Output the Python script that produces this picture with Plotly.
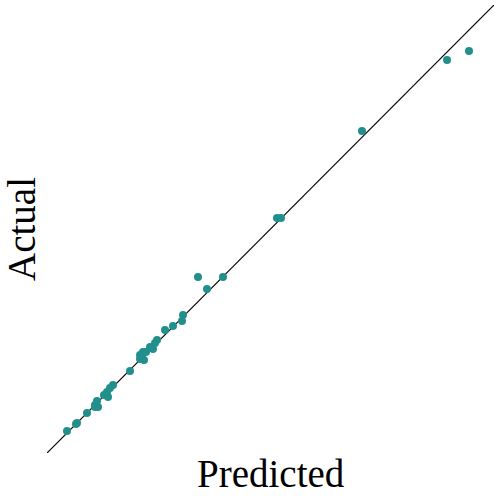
import plotly.graph_objects as go

predicted = [94.41, 89.49, 70.47, 51.45, 52.35, 33.78, 39.37, 35.79, 30.43, 30.20,
             28.19, 26.40, 24.61, 24.16, 23.04, 23.71, 22.15, 21.48, 21.25, 20.81,
             20.81, 21.70, 18.57, 14.77, 14.09, 13.42, 12.75, 13.65, 11.19, 10.74,
             10.74, 11.41, 8.95, 6.71, 6.49, 4.47]
actual = [89.73, 87.72, 71.88, 52.46, 52.46, 39.29, 39.29, 36.61, 30.80, 29.46,
          28.35, 27.46, 25.22, 24.55, 23.66, 23.21, 22.54, 22.54, 21.88, 21.88,
          20.98, 20.76, 18.30, 15.18, 14.51, 13.62, 12.95, 12.50, 11.61, 10.71,
          10.27, 10.27, 8.93, 6.70, 6.47, 4.91]
line_range = [0, 100]

fig = go.Figure()
fig.add_trace(go.Scatter(x=line_range, y=line_range, mode="lines",
                         line=dict(color="black", width=1.2), showlegend=False,
                         hoverinfo="skip"))
fig.add_trace(go.Scatter(x=predicted, y=actual, mode="markers",
                         marker=dict(color="#21908C", size=8, line=dict(width=0)),
                         showlegend=False))

font = dict(family="Liberation Serif, Times New Roman, serif", size=39, color="black")
fig.update_layout(
    width=500, height=500,
    margin=dict(l=47, r=6, t=5, b=47, autoexpand=False),
    paper_bgcolor="white", plot_bgcolor="white",
    xaxis=dict(range=line_range, showgrid=False, zeroline=False, showline=False,
               showticklabels=False, ticks="", automargin=False),
    yaxis=dict(range=line_range, showgrid=False, zeroline=False, showline=False,
               showticklabels=False, ticks="", automargin=False,
               title=dict(text="Actual", font=font, standoff=7)),
    annotations=[
        dict(text="Predicted", xref="paper", yref="paper", x=0.5, y=0,
             xanchor="center", yanchor="top", yshift=3, showarrow=False, font=font),
    ],
)
fig.write_html("out.html", config={"displayModeBar": False},
               post_script="document.body.style.margin='0';")
